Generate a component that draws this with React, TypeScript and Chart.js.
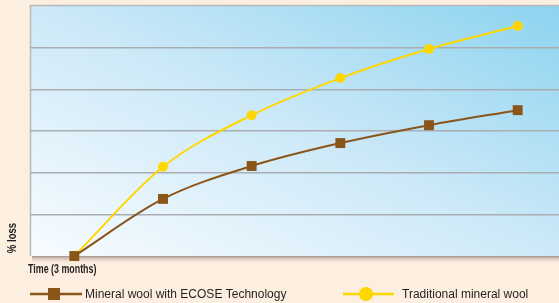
import React, { useEffect, useRef } from "react";
import { Chart, registerables } from "chart.js";

Chart.register(...registerables);

const categories = ["0", "3", "6", "9", "12", "15"];
const ecoseValues = [0, 1.37, 2.16, 2.71, 3.14, 3.5];
const traditionalValues = [0, 2.14, 3.38, 4.27, 4.97, 5.52];
const seriesLabels = ["Mineral wool with ECOSE Technology", "Traditional mineral wool"];
const yAxisTitle = "% loss";
const xAxisTitle = "Time (3 months)";

const BROWN = "#8a5519";
const YELLOW = "#ffd700";
const CREAM = "#fdefdf";

const decor = {
  id: "decor",
  beforeDraw(chart: any) {
    const { ctx, chartArea, width, height } = chart;
    const { left, top, right, bottom } = chartArea;
    const W = right - left;
    const H = bottom - top;
    ctx.save();
    ctx.fillStyle = CREAM;
    ctx.fillRect(0, 0, width, height);
    // shadow below plot
    const sh = ctx.createLinearGradient(0, bottom, 0, bottom + 8);
    sh.addColorStop(0, "rgba(150,140,130,0.9)");
    sh.addColorStop(1, "rgba(253,239,223,0)");
    ctx.fillStyle = sh;
    ctx.fillRect(left + 2, bottom, W, 8);
    // plot gradient (isolines along TL-BR diagonal)
    const norm = Math.sqrt(W * W + H * H);
    const dx = H / norm;
    const dy = -W / norm;
    const L = (2 * W * H) / norm;
    const g = ctx.createLinearGradient(left, bottom, left + dx * L, bottom + dy * L);
    g.addColorStop(0, "#f8fcff");
    g.addColorStop(0.5, "#cde9f8");
    g.addColorStop(1, "#8cd3f0");
    ctx.fillStyle = g;
    ctx.fillRect(left, top, W, H);
    // border left/top
    ctx.strokeStyle = "#b9b9b9";
    ctx.lineWidth = 1.5;
    ctx.beginPath();
    ctx.moveTo(left + 0.5, bottom);
    ctx.lineTo(left + 0.5, top - 0.5);
    ctx.lineTo(right, top - 0.5);
    ctx.stroke();
    ctx.restore();
  },
  afterDraw(chart: any) {
    const { ctx } = chart;
    const titleFont = "bold 12px 'Liberation Sans', 'DejaVu Sans', sans-serif";
    ctx.save();
    // y title
    ctx.fillStyle = "#231f20";
    ctx.font = titleFont;
    ctx.translate(13, 238);
    ctx.rotate(-Math.PI / 2);
    ctx.scale(0.8, 1);
    ctx.textAlign = "center";
    ctx.textBaseline = "middle";
    ctx.fillText(yAxisTitle, 0, 0);
    ctx.restore();
    ctx.save();
    ctx.fillStyle = "#231f20";
    ctx.font = titleFont;
    ctx.textAlign = "left";
    ctx.textBaseline = "middle";
    ctx.translate(28, 270);
    ctx.scale(0.74, 1);
    ctx.fillText(xAxisTitle, 0, 0);
    ctx.restore();
    // legend
    ctx.save();
    const ly = 294;
    ctx.lineWidth = 2.5;
    ctx.strokeStyle = BROWN;
    ctx.beginPath();
    ctx.moveTo(30, ly);
    ctx.lineTo(82, ly);
    ctx.stroke();
    ctx.fillStyle = BROWN;
    ctx.fillRect(48, ly - 6, 12, 12);
    ctx.strokeStyle = YELLOW;
    ctx.beginPath();
    ctx.moveTo(343, ly);
    ctx.lineTo(394, ly);
    ctx.stroke();
    ctx.fillStyle = YELLOW;
    ctx.beginPath();
    ctx.arc(366, ly, 7, 0, Math.PI * 2);
    ctx.fill();
    ctx.fillStyle = "#231f20";
    ctx.font = "12px 'Liberation Sans', sans-serif";
    ctx.textBaseline = "middle";
    ctx.fillText(seriesLabels[0], 85, ly + 1);
    ctx.fillText(seriesLabels[1], 402, ly + 1);
    ctx.restore();
  },
};

export default function App() {
  const ref = useRef<HTMLCanvasElement>(null);
  useEffect(() => {
    if (!ref.current) return;
    const chart = new Chart(ref.current, {
      type: "line",
      data: {
        labels: categories,
        datasets: [
          {
            label: seriesLabels[0],
            data: ecoseValues,
            borderColor: BROWN,
            backgroundColor: BROWN,
            borderWidth: 2,
            pointStyle: "rect",
            pointRadius: 7,
            pointBorderWidth: 0,
            tension: 0.4,
            cubicInterpolationMode: "monotone",
            clip: false,
            order: 0,
          },
          {
            label: seriesLabels[1],
            data: traditionalValues,
            borderColor: YELLOW,
            backgroundColor: YELLOW,
            borderWidth: 2,
            pointStyle: "circle",
            pointRadius: 5,
            pointBorderWidth: 0,
            tension: 0.4,
            cubicInterpolationMode: "monotone",
            clip: false,
            order: 1,
          },
        ],
      },
      options: {
        animation: false,
        responsive: false,
        maintainAspectRatio: false,
        layout: { autoPadding: false, padding: { left: 30, top: 6, right: 0, bottom: 47 } },
        plugins: { legend: { display: false }, tooltip: { enabled: false } },
        scales: {
          x: { display: false, offset: true },
          y: {
            display: true,
            min: 0,
            max: 6,
            ticks: { display: false, stepSize: 1 },
            grid: {
              drawTicks: false,
              color: (c: any) => (c.tick.value === 0 || c.tick.value === 6 ? "rgba(0,0,0,0)" : "#a9adb1"),
              lineWidth: 1.5,
            },
            border: { display: false },
          },
        },
      },
      plugins: [decor],
    });
    return () => chart.destroy();
  }, []);
  return (
    <div style={{ position: "absolute", left: 0, top: 0, width: 559, height: 303, overflow: "hidden" }}>
      <canvas ref={ref} width={562} height={303} style={{ width: 562, height: 303, display: "block" }} />
    </div>
  );
}
